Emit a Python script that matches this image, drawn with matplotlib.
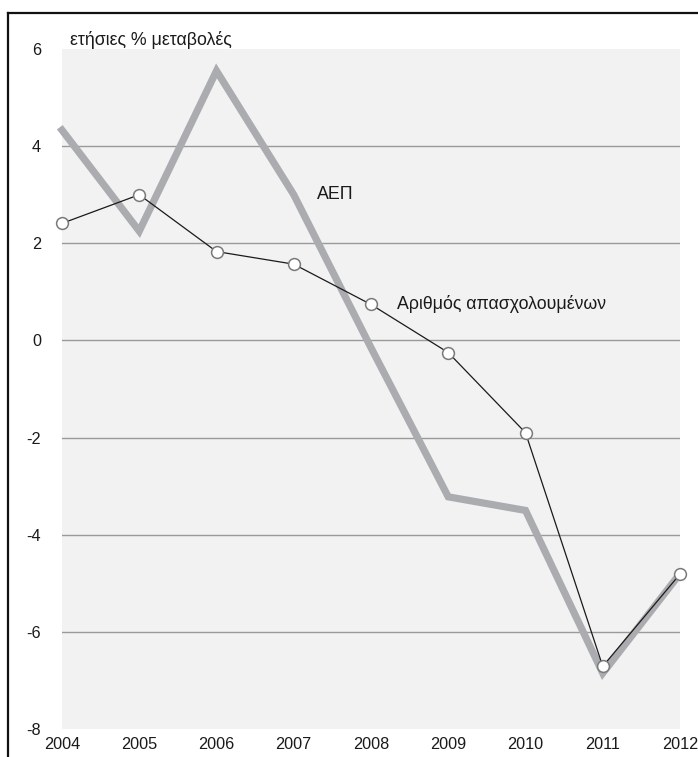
import matplotlib
matplotlib.use('Agg')
import matplotlib.pyplot as plt
from matplotlib.lines import Line2D

plt.rcParams['font.family'] = ['Liberation Sans', 'DejaVu Sans']
plt.rcParams['axes.unicode_minus'] = False

# annual % changes
years      = [2004, 2005, 2006, 2007, 2008, 2009, 2010, 2011, 2012]
gdp        = [4.33, 2.25, 5.55, 3.0, -0.15, -3.22, -3.5, -6.85, -4.8]
employment = [2.41, 3.0, 1.83, 1.57, 0.74, -0.25, -1.9, -6.71, -4.81]
y_ticks    = [-8, -6, -4, -2, 0, 2, 4, 6]

W, H = 698, 757
FS = 12.8      # text labels
TFS = 11.7     # tick labels
fig = plt.figure(figsize=(W / 100, H / 100), dpi=100)
fig.patch.set_facecolor('white')

ax = fig.add_axes([62 / W, (H - 729) / H, 618 / W, 680 / H])
ax.set_facecolor('#f2f2f2')

# horizontal grid (not at the frame edges)
for v in y_ticks[1:-1]:
    ax.axhline(v, color='#9a9a9a', lw=1.0, zorder=1)

ax.plot(years, gdp, color='#abacaf', lw=5.2, solid_joinstyle='miter',
        zorder=2, clip_on=False)
ax.plot(years, employment, color='#1a1a1a', lw=0.9, zorder=3, clip_on=False,
        marker='o', markersize=8.5, markerfacecolor='white',
        markeredgecolor='#7a7a7a', markeredgewidth=1.1)

ax.set_xlim(2004, 2012)
ax.set_ylim(-8, 6)
ax.set_xticks(years)
ax.set_yticks(y_ticks)
ax.tick_params(axis='both', length=0, labelsize=TFS, colors='#1a1a1a')
ax.tick_params(axis='y', pad=15)
ax.tick_params(axis='x', pad=6)
for s in ax.spines.values():
    s.set_visible(False)

# series labels
ax.text(2007.30, 3.0, 'ΑΕΠ', fontsize=FS, color='#1a1a1a', va='center')
ax.text(2008.34, 0.76, 'Αριθμός απασχολουμένων', fontsize=FS,
        color='#1a1a1a', va='center')

# unit label
fig.text(70 / W, 1 - 40 / H, 'ετήσιες % μεταβολές', fontsize=FS,
         color='#1a1a1a', va='center', ha='left')

# outer frame (top and left)
fig.add_artist(Line2D([8 / W, 1], [1 - 13 / H, 1 - 13 / H], color='#111111',
                      lw=1.6, transform=fig.transFigure))
fig.add_artist(Line2D([8 / W, 8 / W], [0, 1 - 13 / H], color='#111111',
                      lw=1.6, transform=fig.transFigure))

fig.savefig('out.png', dpi=100, facecolor='white')
